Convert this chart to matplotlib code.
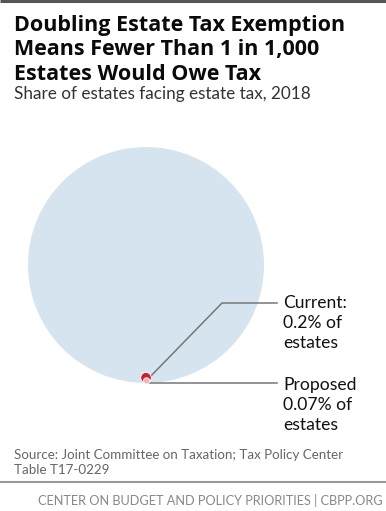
import numpy as np
import matplotlib
matplotlib.use('Agg')
from matplotlib import pyplot as plt
from matplotlib.patches import Circle

# data
groups = ['All estates', 'Current', 'Proposed']
shares = [100.0, 0.2, 0.07]  # percent of estates
labels = ['', 'Current:\n0.2% of\nestates', 'Proposed\n0.07% of\nestates']
colors = ['#d6e4ef', '#c8202f', '#f7b2b4']

title = ['Doubling Estate Tax Exemption', 'Means Fewer Than 1 in 1,000', 'Estates Would Owe Tax']
source = ['Source: Joint Committee on Taxation; Tax Policy Center', 'Table T17-0229']

W, H = 386, 511
fig = plt.figure(figsize=(W / 100, H / 100), dpi=100)
ax = fig.add_axes([0, 0, 1, 1])
ax.set_xlim(0, W)
ax.set_ylim(H, 0)
ax.axis('off')


def lines(x, y0, txt, step, **kw):
    # one text per line, each placed on its own baseline
    for k, t in enumerate(txt):
        ax.text(x, y0 + k * step, t, va='baseline', **kw)


# top rule
ax.plot([0, W], [1, 1], color='#555555', lw=2.2, solid_capstyle='butt')

lines(14, 31, title, 24.5, fontsize=15.5, fontweight='bold', family='Open Sans', color='#0a0a0a')
ax.text(14, 99, 'Share of estates facing estate tax, 2018', fontsize=12.3,
        family='Lato', color='#333333', va='baseline')

# circles, area proportional to share, all sitting on one baseline
R = 118
cx, base = 146, 383
for i, s in enumerate(shares):
    r = R * np.sqrt(s / 100)
    ec = 'white' if i > 0 else 'none'
    ax.add_patch(Circle((cx + (0.6 if i == 2 else 0), base - r + (1 if i == 2 else 0)), r,
                        facecolor=colors[i], edgecolor=ec, lw=0.6, zorder=2 + i * 2))

# leader lines
ax.plot([147, 222, 277], [380, 303, 303], color='#777777', lw=1.1, zorder=3)
ax.plot([148, 277], [382.7, 382.7], color='#777777', lw=1.1, zorder=3)

lines(283, 308, labels[1].split('\n'), 20, fontsize=12.6, family='Lato', color='#111111')
lines(283, 390, labels[2].split('\n'), 20, fontsize=12.6, family='Lato', color='#111111')

lines(14, 459, source, 14.5, fontsize=9.6, family='Lato', color='#666666')

ax.plot([0, W], [482, 482], color='#999999', lw=1.5)
ax.text(383, 505, 'CENTER ON BUDGET AND POLICY PRIORITIES | CBPP.ORG', fontsize=9.2,
        family='Lato', color='#888888', ha='right', va='baseline')

fig.savefig('out.png', dpi=100)
plt.close()
